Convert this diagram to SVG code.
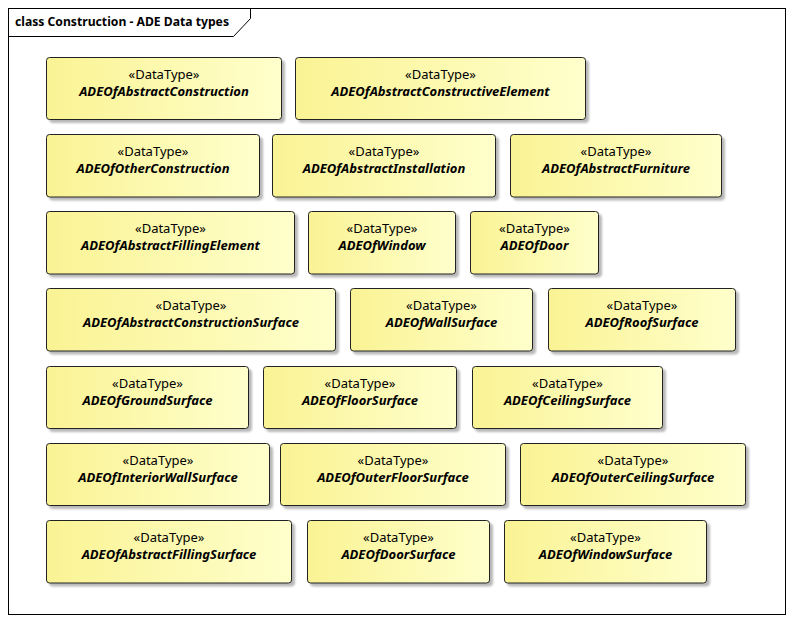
<svg xmlns="http://www.w3.org/2000/svg" width="794" height="623" viewBox="0 0 794 623">
  <defs>
    <linearGradient id="fillYellow" x1="0" y1="0" x2="1" y2="0">
      <stop offset="0" stop-color="#FAF394"/>
      <stop offset="1" stop-color="#FFFFCC"/>
    </linearGradient>
    <filter id="shadow" x="-5%" y="-10%" width="115%" height="130%">
      <feDropShadow dx="3" dy="3" stdDeviation="1.2" flood-color="#000" flood-opacity="0.28"/>
    </filter>
  </defs>
  <style>
    .box { fill: url(#fillYellow); stroke: #222; stroke-width: 1; filter: url(#shadow); }
    .st { font-family: "Noto Sans", "Open Sans", sans-serif; font-size: 13px; fill: #000; text-anchor: middle; }
    .nm { font-family: "Noto Sans", "Open Sans", sans-serif; font-size: 13px; font-weight: bold; font-style: italic; fill: #000; text-anchor: middle; }
    .title { font-family: "Noto Sans", "Open Sans", sans-serif; font-size: 13px; font-weight: bold; fill: #000; }
  </style>
  <rect width="794" height="623" fill="#fff"/>

  <!-- diagram frame -->
  <g id="frame">
    <rect x="8.5" y="8.5" width="777" height="606" fill="none" stroke="#000" stroke-width="1"/>
    <path d="M8.5 36.5 H233.5 L250.5 18.5 V8.5" fill="none" stroke="#000" stroke-width="1"/>
    <text class="title" x="15" y="26" textLength="214" lengthAdjust="spacingAndGlyphs">class Construction - ADE Data types</text>
  </g>

  <!-- row 1 -->
  <g id="ADEOfAbstractConstruction">
    <rect class="box" x="46.5" y="57.5" width="235" height="62" rx="3"/>
    <text class="st" x="164" y="79">«DataType»</text>
    <text class="nm" x="164" y="96">ADEOfAbstractConstruction</text>
  </g>
  <g id="ADEOfAbstractConstructiveElement">
    <rect class="box" x="295.5" y="57.5" width="290" height="62" rx="3"/>
    <text class="st" x="440.5" y="79">«DataType»</text>
    <text class="nm" x="440.5" y="96">ADEOfAbstractConstructiveElement</text>
  </g>

  <!-- row 2 -->
  <g id="ADEOfOtherConstruction">
    <rect class="box" x="46.5" y="134.5" width="213" height="62.5" rx="3"/>
    <text class="st" x="153" y="156">«DataType»</text>
    <text class="nm" x="153" y="173">ADEOfOtherConstruction</text>
  </g>
  <g id="ADEOfAbstractInstallation">
    <rect class="box" x="272.5" y="134.5" width="223" height="62.5" rx="3"/>
    <text class="st" x="384" y="156">«DataType»</text>
    <text class="nm" x="384" y="173">ADEOfAbstractInstallation</text>
  </g>
  <g id="ADEOfAbstractFurniture">
    <rect class="box" x="510.5" y="134.5" width="211" height="62.5" rx="3"/>
    <text class="st" x="616" y="156">«DataType»</text>
    <text class="nm" x="616" y="173">ADEOfAbstractFurniture</text>
  </g>

  <!-- row 3 -->
  <g id="ADEOfAbstractFillingElement">
    <rect class="box" x="46.5" y="211.5" width="248" height="62.5" rx="3"/>
    <text class="st" x="170.5" y="233">«DataType»</text>
    <text class="nm" x="170.5" y="250">ADEOfAbstractFillingElement</text>
  </g>
  <g id="ADEOfWindow">
    <rect class="box" x="308.5" y="211.5" width="147" height="62.5" rx="3"/>
    <text class="st" x="382" y="233">«DataType»</text>
    <text class="nm" x="382" y="250">ADEOfWindow</text>
  </g>
  <g id="ADEOfDoor">
    <rect class="box" x="470.5" y="211.5" width="128" height="62.5" rx="3"/>
    <text class="st" x="534.5" y="233">«DataType»</text>
    <text class="nm" x="534.5" y="250">ADEOfDoor</text>
  </g>

  <!-- row 4 -->
  <g id="ADEOfAbstractConstructionSurface">
    <rect class="box" x="46.5" y="288.5" width="289" height="62.5" rx="3"/>
    <text class="st" x="191" y="310">«DataType»</text>
    <text class="nm" x="191" y="327">ADEOfAbstractConstructionSurface</text>
  </g>
  <g id="ADEOfWallSurface">
    <rect class="box" x="350.5" y="288.5" width="182" height="62.5" rx="3"/>
    <text class="st" x="441.5" y="310">«DataType»</text>
    <text class="nm" x="441.5" y="327">ADEOfWallSurface</text>
  </g>
  <g id="ADEOfRoofSurface">
    <rect class="box" x="548.5" y="288.5" width="187" height="62.5" rx="3"/>
    <text class="st" x="642" y="310">«DataType»</text>
    <text class="nm" x="642" y="327">ADEOfRoofSurface</text>
  </g>

  <!-- row 5 -->
  <g id="ADEOfGroundSurface">
    <rect class="box" x="46.5" y="366.5" width="202" height="62" rx="3"/>
    <text class="st" x="147.5" y="388">«DataType»</text>
    <text class="nm" x="147.5" y="405">ADEOfGroundSurface</text>
  </g>
  <g id="ADEOfFloorSurface">
    <rect class="box" x="263.5" y="366.5" width="193" height="62" rx="3"/>
    <text class="st" x="360" y="388">«DataType»</text>
    <text class="nm" x="360" y="405">ADEOfFloorSurface</text>
  </g>
  <g id="ADEOfCeilingSurface">
    <rect class="box" x="472.5" y="366.5" width="190" height="62" rx="3"/>
    <text class="st" x="567.5" y="388">«DataType»</text>
    <text class="nm" x="567.5" y="405">ADEOfCeilingSurface</text>
  </g>

  <!-- row 6 -->
  <g id="ADEOfInteriorWallSurface">
    <rect class="box" x="46.5" y="443.5" width="223" height="62" rx="3"/>
    <text class="st" x="158" y="465">«DataType»</text>
    <text class="nm" x="158" y="482">ADEOfInteriorWallSurface</text>
  </g>
  <g id="ADEOfOuterFloorSurface">
    <rect class="box" x="280.5" y="443.5" width="225" height="62" rx="3"/>
    <text class="st" x="393" y="465">«DataType»</text>
    <text class="nm" x="393" y="482">ADEOfOuterFloorSurface</text>
  </g>
  <g id="ADEOfOuterCeilingSurface">
    <rect class="box" x="520.5" y="443.5" width="225" height="62" rx="3"/>
    <text class="st" x="633" y="465">«DataType»</text>
    <text class="nm" x="633" y="482">ADEOfOuterCeilingSurface</text>
  </g>

  <!-- row 7 -->
  <g id="ADEOfAbstractFillingSurface">
    <rect class="box" x="46.5" y="520.5" width="245" height="62.5" rx="3"/>
    <text class="st" x="169" y="542">«DataType»</text>
    <text class="nm" x="169" y="559">ADEOfAbstractFillingSurface</text>
  </g>
  <g id="ADEOfDoorSurface">
    <rect class="box" x="307.5" y="520.5" width="182" height="62.5" rx="3"/>
    <text class="st" x="398.5" y="542">«DataType»</text>
    <text class="nm" x="398.5" y="559">ADEOfDoorSurface</text>
  </g>
  <g id="ADEOfWindowSurface">
    <rect class="box" x="504.5" y="520.5" width="202" height="62.5" rx="3"/>
    <text class="st" x="605.5" y="542">«DataType»</text>
    <text class="nm" x="605.5" y="559">ADEOfWindowSurface</text>
  </g>

  <!-- no connectors in this diagram -->
  <g id="connectors"/>
</svg>
